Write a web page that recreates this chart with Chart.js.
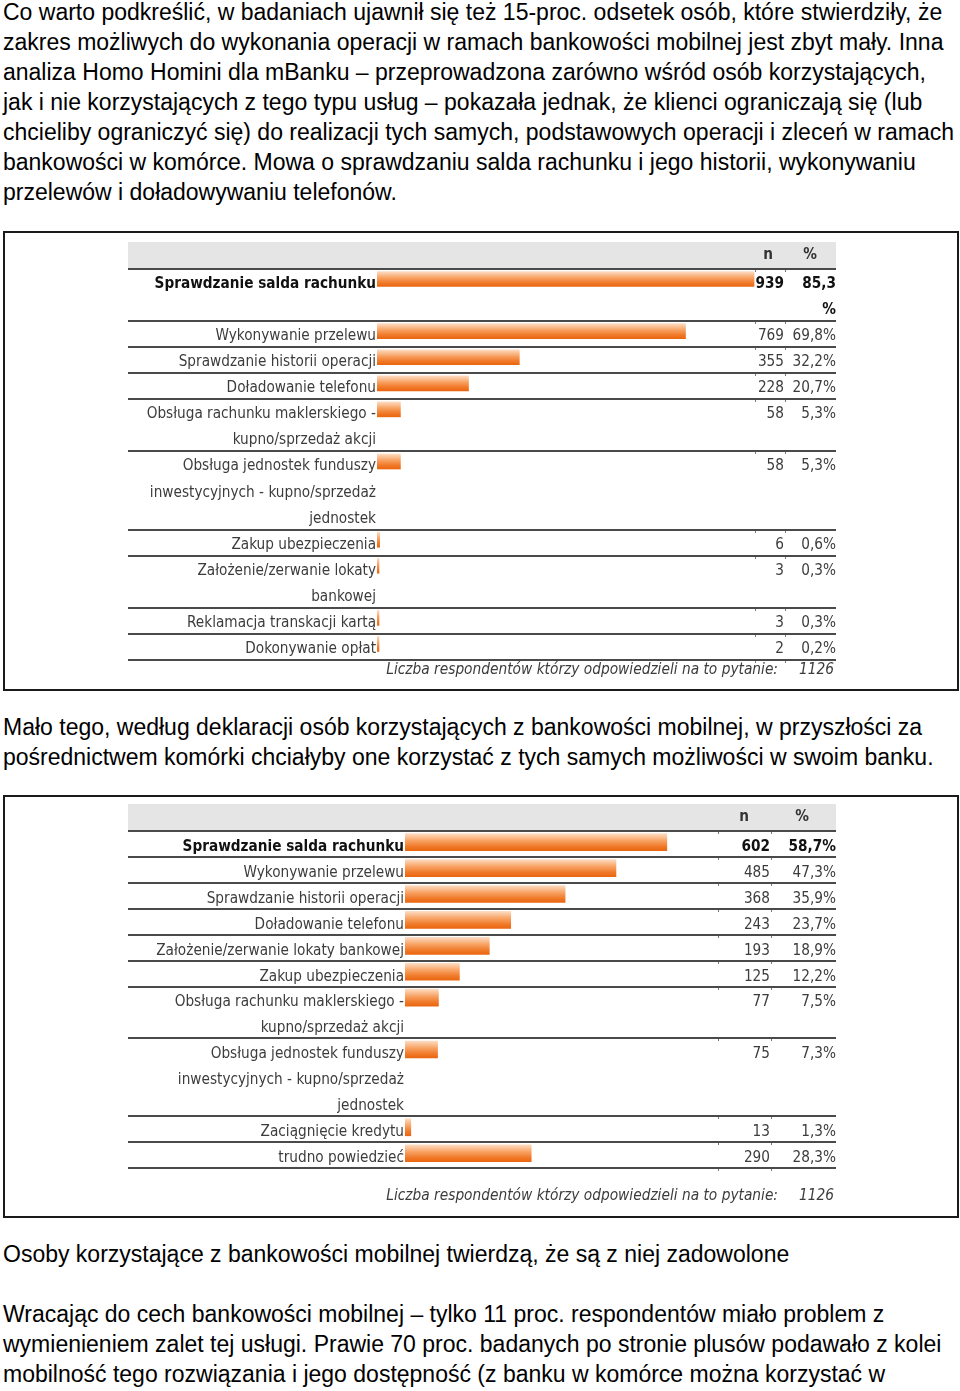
<!DOCTYPE html>
<html lang="pl">
<head>
<meta charset="utf-8">
<script src="https://cdn.jsdelivr.net/npm/chart.js@4.4.1/dist/chart.umd.min.js"></script>
<style>
  html, body { margin: 0; padding: 0; background: #fff; }
  body {
    width: 960px; height: 1391px; position: relative; overflow: hidden;
    font-family: "Liberation Sans", Arial, sans-serif; font-size: 23px; line-height: 30px; color: #000;
  }
  .txt { position: absolute; left: 3px; white-space: nowrap; }
  .frame { position: absolute; left: 3px; width: 956px; border: 2px solid #1a1a1a; box-sizing: border-box; }
  .frame canvas { display: block; }
</style>
</head>
<body>

<div class="txt" style="top:-3px">
Co warto podkreślić, w badaniach ujawnił się też 15-proc. odsetek osób, które stwierdziły, że<br>
zakres możliwych do wykonania operacji w ramach bankowości mobilnej jest zbyt mały. Inna<br>
analiza Homo Homini dla mBanku – przeprowadzona zarówno wśród osób korzystających,<br>
jak i nie korzystających z tego typu usług – pokazała jednak, że klienci ograniczają się (lub<br>
chcieliby ograniczyć się) do realizacji tych samych, podstawowych operacji i zleceń w ramach<br>
bankowości w komórce. Mowa o sprawdzaniu salda rachunku i jego historii, wykonywaniu<br>
przelewów i doładowywaniu telefonów.
</div>

<div class="frame" style="top:231px;height:460px"><canvas id="chart1"></canvas></div>

<div class="txt" style="top:712px">
Mało tego, według deklaracji osób korzystających z bankowości mobilnej, w przyszłości za<br>
pośrednictwem komórki chciałyby one korzystać z tych samych możliwości w swoim banku.
</div>

<div class="frame" style="top:795px;height:423px"><canvas id="chart2"></canvas></div>

<div class="txt" style="top:1239px">
Osoby korzystające z bankowości mobilnej twierdzą, że są z niej zadowolone
</div>

<div class="txt" style="top:1299px">
Wracając do cech bankowości mobilnej – tylko 11 proc. respondentów miało problem z<br>
wymienieniem zalet tej usługi. Prawie 70 proc. badanych po stronie plusów podawało z kolei<br>
mobilność tego rozwiązania i jego dostępność (z banku w komórce można korzystać w
</div>

<script>
// --- dane: wykres 1 (obecne korzystanie) ---
const labels1 = [
    ['Sprawdzanie salda rachunku'],
    ['Wykonywanie przelewu'],
    ['Sprawdzanie historii operacji'],
    ['Doładowanie telefonu'],
    ['Obsługa rachunku maklerskiego -', 'kupno/sprzedaż akcji'],
    ['Obsługa jednostek funduszy', 'inwestycyjnych - kupno/sprzedaż', 'jednostek'],
    ['Zakup ubezpieczenia'],
    ['Założenie/zerwanie lokaty', 'bankowej'],
    ['Reklamacja transkacji kartą'],
    ['Dokonywanie opłat']
];
const counts1 = [939, 769, 355, 228, 58, 58, 6, 3, 3, 2];
const percents1 = [85.3, 69.8, 32.2, 20.7, 5.3, 5.3, 0.6, 0.3, 0.3, 0.2];

// --- dane: wykres 2 (chęć korzystania w przyszłości) ---
const labels2 = [
    ['Sprawdzanie salda rachunku'],
    ['Wykonywanie przelewu'],
    ['Sprawdzanie historii operacji'],
    ['Doładowanie telefonu'],
    ['Założenie/zerwanie lokaty bankowej'],
    ['Zakup ubezpieczenia'],
    ['Obsługa rachunku maklerskiego -', 'kupno/sprzedaż akcji'],
    ['Obsługa jednostek funduszy', 'inwestycyjnych - kupno/sprzedaż', 'jednostek'],
    ['Zaciągnięcie kredytu'],
    ['trudno powiedzieć']
];
const counts2 = [602, 485, 368, 243, 193, 125, 77, 75, 13, 290];
const percents2 = [58.7, 47.3, 35.9, 23.7, 18.9, 12.2, 7.5, 7.3, 1.3, 28.3];

const respondents = 1126;
const footerText = 'Liczba respondentów którzy odpowiedzieli na to pytanie:';
const headerN = 'n';
const headerPct = '%';

// Tahoma-podobny krój: węższy DejaVu Condensed jeśli jest, inaczej zwykły
let FONT = '"DejaVu Sans Condensed", "DejaVu Sans", sans-serif';
let FONT_SIZE = 15.2;
let FOOT_SIZE = 15.3;
(function pickFont() {
    const m = document.createElement('canvas').getContext('2d');
    m.font = FONT_SIZE + 'px ' + FONT;
    const w = m.measureText('Wykonywanie przelewu').width;
    if (w > 172) {
        FONT = '"DejaVu Sans", sans-serif';
        FONT_SIZE = 13.5;
        FOOT_SIZE = 13.7;
    }
})();

function fmtPct(v) {
    return v.toFixed(1).replace('.', ',');
}

// pionowy gradient słupka liczony z pozycji na osi
function barGradient(c, thickness) {
    const chart = c.chart;
    const ys = chart.scales.y;
    if (!ys || !c.raw) return '#f08030';
    const cy = ys.getPixelForValue(c.raw.y);
    if (!Number.isFinite(cy)) return '#f08030';
    const top = cy - thickness / 2;
    const g = chart.ctx.createLinearGradient(0, top, 0, top + thickness);
    g.addColorStop(0, '#fddcc2');
    g.addColorStop(0.4, '#f8a466');
    g.addColorStop(0.75, '#f07a2a');
    g.addColorStop(1, '#ea6610');
    return g;
}

function buildChart(canvasId, labels, counts, percents, L) {
    // każdy wiersz zajmuje tyle "slotów", ile ma linii tekstu
    const starts = [];
    let s = 0;
    labels.forEach((lines, i) => {
        starts.push(s);
        s += lines.length;
        if (i === 0 && L.subHeader) s += 1;
    });
    const totalSlots = s;
    const rowEnds = starts.map((st, i) => i + 1 < starts.length ? starts[i + 1] : totalSlots);

    const tablePlugin = {
        id: 'tablePlugin',
        beforeDatasetsDraw(chart) {
            const ctx = chart.ctx;
            const area = chart.chartArea;
            const y = chart.scales.y;

            // szare pasmo nagłówka
            ctx.save();
            ctx.fillStyle = '#e5e5e5';
            ctx.fillRect(L.lineLeft, area.top - 27, L.lineRight - L.lineLeft, 26);

            // linie oddzielające wiersze
            ctx.strokeStyle = '#4a4a4a';
            ctx.lineWidth = 2;
            [0].concat(rowEnds).forEach(v => {
                const py = Math.round(y.getPixelForValue(v));
                ctx.beginPath();
                ctx.moveTo(L.lineLeft, py);
                ctx.lineTo(L.lineRight, py);
                ctx.stroke();
                // drobne znaczniki kolumn pod linią
                ctx.fillStyle = '#777';
                L.colTicks.forEach(tx => ctx.fillRect(tx, py + 1, 1, 2));
            });
            ctx.restore();
        },
        afterDatasetsDraw(chart) {
            const ctx = chart.ctx;
            const area = chart.chartArea;
            const y = chart.scales.y;
            const lineCenter = v => y.getPixelForValue(v + 0.5) + L.textShift;

            ctx.save();
            ctx.textBaseline = 'middle';

            // nagłówek kolumn
            ctx.font = 'bold ' + FONT_SIZE + 'px ' + FONT;
            ctx.fillStyle = '#333';
            ctx.textAlign = 'center';
            ctx.fillText(headerN, L.nHeadX, area.top - 14);
            ctx.fillText(headerPct, L.pctHeadX, area.top - 14);

            labels.forEach((lines, i) => {
                const bold = i === 0;
                ctx.font = (bold ? 'bold ' : '') + FONT_SIZE + 'px ' + FONT;
                ctx.fillStyle = bold ? '#111' : '#3c3c3c';
                ctx.textAlign = 'right';
                lines.forEach((txt, j) => {
                    ctx.fillText(txt, area.left - 1, lineCenter(starts[i] + j));
                });
                const cy = lineCenter(starts[i]);
                ctx.fillText(String(counts[i]), L.nRight, cy);
                const suffix = (i === 0 && L.subHeader) ? '' : '%';
                ctx.fillText(fmtPct(percents[i]) + suffix, L.pctRight, cy);
                if (i === 0 && L.subHeader) {
                    ctx.fillText(headerPct, L.pctRight, lineCenter(starts[0] + 1));
                }
            });

            // stopka
            ctx.font = 'italic ' + FOOT_SIZE + 'px ' + FONT;
            ctx.fillStyle = '#3c3c3c';
            ctx.textAlign = 'right';
            const fy = y.getPixelForValue(totalSlots) + L.footerGap;
            ctx.fillText(footerText, L.footRight, fy);
            ctx.fillText(String(respondents), L.pctRight - 2, fy);
            ctx.restore();
        }
    };

    return new Chart(document.getElementById(canvasId).getContext('2d'), {
        type: 'bar',
        data: {
            datasets: [{
                data: percents.map((p, i) => ({ x: p, y: starts[i] + L.barPos })),
                backgroundColor: c => barGradient(c, L.barThickness),
                borderWidth: 0,
                barThickness: L.barThickness,
                minBarLength: 2
            }]
        },
        options: {
            indexAxis: 'y',
            responsive: true,
            maintainAspectRatio: false,
            animation: false,
            layout: { padding: L.padding },
            plugins: { legend: { display: false }, tooltip: { enabled: false } },
            scales: {
                x: { type: 'linear', min: 0, max: 100, display: false, offset: false },
                y: { type: 'linear', min: 0, max: totalSlots, reverse: true, display: false, offset: false }
            }
        },
        plugins: [tablePlugin]
    });
}

buildChart('chart1', labels1, counts1, percents1, {
    subHeader: true,
    padding: { left: 372, right: 138, top: 36, bottom: 29 },
    lineLeft: 123, lineRight: 831,
    nRight: 779, pctRight: 831, nHeadX: 763, pctHeadX: 805,
    colTicks: [750, 780],
    footRight: 773, footerGap: 10,
    barThickness: 15, barPos: 0.385, textShift: 2
});

buildChart('chart2', labels2, counts2, percents2, {
    subHeader: false,
    padding: { left: 400, right: 106, top: 34, bottom: 48 },
    lineLeft: 123, lineRight: 831,
    nRight: 765, pctRight: 831, nHeadX: 739, pctHeadX: 797,
    colTicks: [713, 766],
    footRight: 773, footerGap: 28,
    barThickness: 17, barPos: 0.43, textShift: 3
});
</script>
</body>
</html>
